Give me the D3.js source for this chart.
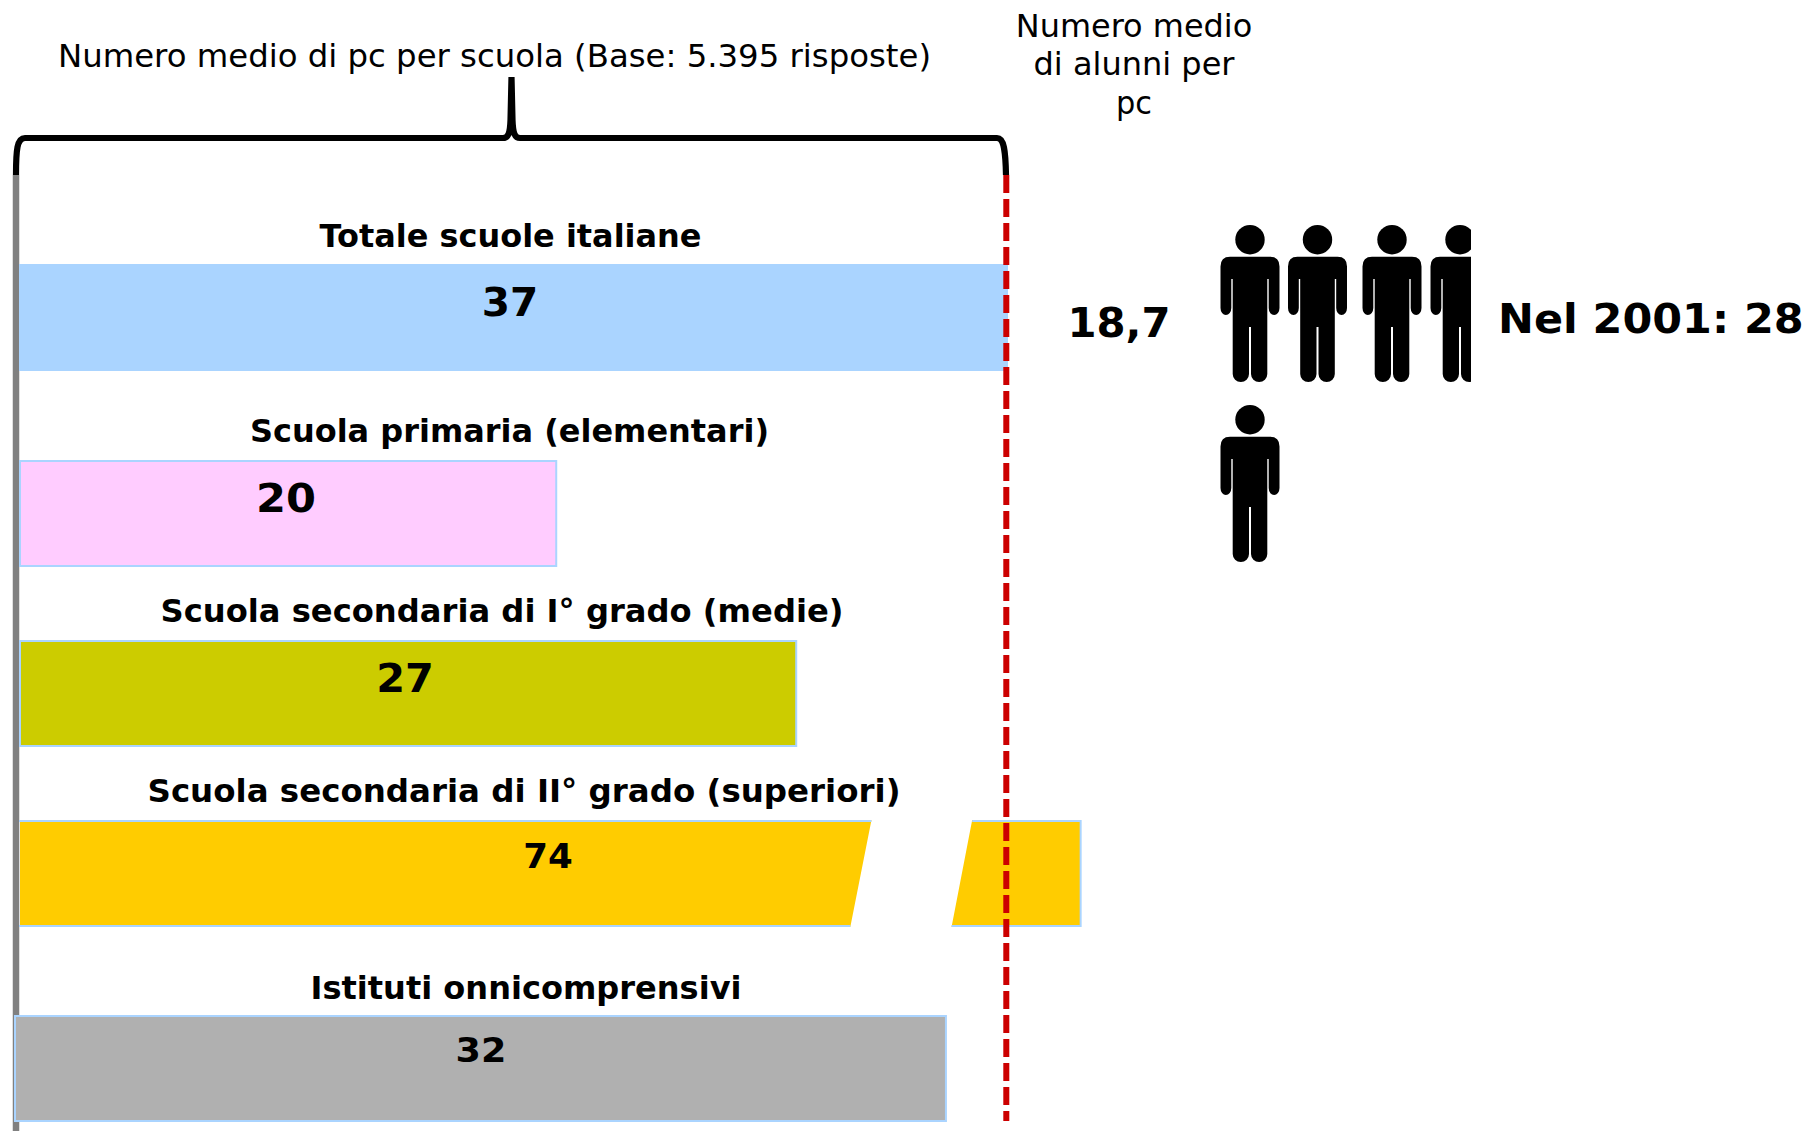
<!DOCTYPE html>
<html><head><meta charset="utf-8">
<script src="https://cdnjs.cloudflare.com/ajax/libs/d3/7.8.5/d3.min.js"></script>
<style>html,body{margin:0;padding:0;background:#fff}svg{display:block}text{font-family:"DejaVu Sans",Verdana,sans-serif;fill:#000}</style>
</head><body><script>
const categories = ["Totale scuole italiane","Scuola primaria (elementari)","Scuola secondaria di I° grado (medie)","Scuola secondaria di II° grado (superiori)","Istituti onnicomprensivi"];
const values = [37,20,27,74,32];
// the source bars are schematic: lengths, in units of the "37" bar
const drawnLengths = [37,20.17,29.13,39.75,34.72];
const barColors = ["#AAD4FF","#FFCCFF","#CCCC00","#FFCC00","#B0B0B0"];
const titleLeft = "Numero medio di pc per scuola (Base: 5.395 risposte)";
const titleRight = ["Numero medio","di alunni per","pc"];
const ratioLabel = "18,7";
const noteLabel = "Nel 2001: 28";
const people = [0,1,2,3,4];

const svg = d3.select("body").append("svg").attr("width",1809).attr("height",1131);
const defs = svg.append("defs");
const x = d3.scaleLinear().domain([0,37]).range([16,1007]);
const rowTop = d3.scaleOrdinal().domain(categories).range([265,461,641,821,1016]);
const barH = 105;
const labelBase = d3.scaleOrdinal().domain(categories).range([247,442,622,802,999]);
const labelX = d3.scaleOrdinal().domain(categories).range([510.5,509.5,502,524,526]);
const labelW = d3.scaleOrdinal().domain(categories).range([382,519,683,753,431]);
const valX = d3.scaleOrdinal().domain(values).range([510,286,405,548,481]);
const valY = d3.scaleOrdinal().domain(values).range([316,512,692,868,1062]);
const valSize = d3.scaleOrdinal().domain(values).range([39,39,39,34,34]);
const valW = d3.scaleOrdinal().domain(values).range([56.5,60,57.7,49.6,50.8]);

function centred(sel,w){return sel.attr("text-anchor","middle").attr("textLength",w).attr("lengthAdjust","spacingAndGlyphs");}

// axis line
svg.append("line").attr("x1",16).attr("x2",16).attr("y1",175).attr("y2",1131).attr("stroke","#808080").attr("stroke-width",6.5);

// bars
const rows = categories.map((c,i)=>({c,i,v:values[i],len:drawnLengths[i],col:barColors[i]}));
const barStroke = "#AAD4FF";
const bars = svg.append("g");
bars.selectAll("path.bar").data(rows).join("path").attr("class","bar")
  .attr("fill",d=>d.col)
  .attr("stroke",d=>d.v===74?"none":barStroke).attr("stroke-width",2)
  .attr("d",d=>{
    const t=rowTop(d.c), b=t+barH, p=d3.path();
    const x0 = d.i===4 ? 15 : 20;
    if(d.v===74){ // broken bar, slanted cut edges carry no outline
      p.moveTo(x0,t-1);p.lineTo(x(31.94),t-1);p.lineTo(x(31.15),b+1);p.lineTo(x0,b+1);p.closePath();
      p.moveTo(x(35.7),t-1);p.lineTo(x(d.len),t-1);p.lineTo(x(d.len),b+1);p.lineTo(x(34.93),b+1);p.closePath();
    } else {
      p.rect(x0,t,x(d.len)-x0,barH);
    }
    return p.toString();
  });
// outline of the broken bar, only on its straight edges
bars.selectAll("path.edge").data(rows.filter(d=>d.v===74)).join("path").attr("class","edge")
  .attr("fill","none").attr("stroke",barStroke).attr("stroke-width",2)
  .attr("d",d=>{
    const t=rowTop(d.c), b=t+barH, p=d3.path();
    p.moveTo(19,t);p.lineTo(x(31.94),t);
    p.moveTo(19,b);p.lineTo(x(31.15),b);
    p.moveTo(x(35.7),t);p.lineTo(x(d.len),t);p.lineTo(x(d.len),b);p.lineTo(x(34.93),b);
    return p.toString();
  });

// red dashed reference
svg.append("line").attr("x1",1006.3).attr("x2",1006.3).attr("y1",175).attr("y2",1121)
  .attr("stroke","#CC0000").attr("stroke-width",6).attr("stroke-dasharray","18 6");

// brace
svg.append("path").attr("fill","none").attr("stroke","#000").attr("stroke-width",6.2)
 .attr("d","M16,175 C16,150 17,138 25,138 H503 C508,138 510,134 510.5,120 L511.5,77 L512.5,120 C513,134 515,138 520,138 H997 C1004,138 1005.5,150 1006,175");

// texts
centred(svg.append("text").attr("x",494.5).attr("y",67).attr("font-size",32),873).text(titleLeft);
const rightW=[236.5,201,36];
svg.append("g").selectAll("text").data(titleRight).join("text").attr("x",1134)
  .attr("y",(d,i)=>[37,75,114][i]).attr("text-anchor","middle").attr("font-size",32)
  .attr("textLength",(d,i)=>rightW[i]).attr("lengthAdjust","spacingAndGlyphs").text(d=>d);
svg.append("g").selectAll("text").data(categories).join("text")
  .attr("x",d=>labelX(d)).attr("y",d=>labelBase(d)).attr("text-anchor","middle")
  .attr("textLength",d=>labelW(d)).attr("lengthAdjust","spacingAndGlyphs")
  .attr("font-size",31.5).attr("font-weight","bold").text(d=>d);
svg.append("g").selectAll("text").data(values).join("text")
  .attr("x",d=>valX(d)).attr("y",d=>valY(d)).attr("text-anchor","middle")
  .attr("textLength",d=>valW(d)).attr("lengthAdjust","spacingAndGlyphs")
  .attr("font-size",d=>valSize(d)).attr("font-weight","bold").text(d=>d);
centred(svg.append("text").attr("x",1119).attr("y",337).attr("font-size",41).attr("font-weight","bold"),103).text(ratioLabel);
svg.append("text").attr("x",1498).attr("y",333).attr("font-size",40).attr("font-weight","bold")
  .attr("textLength",305.7).attr("lengthAdjust","spacingAndGlyphs").text(noteLabel);

// pictogram
defs.append("clipPath").attr("id","pic").append("rect").attr("x",1200).attr("y",200).attr("width",271).attr("height",400);
const manBody="M-20,31.7 H20 Q29.5,31.7 29.5,41.5 V83 A5.4 7 0 0 1 18.7,83 V54 H17.3 V149 A8.15 8 0 0 1 1,149 V102 H-1 V149 A8.15 8 0 0 1 -17.3,149 V54 H-18.7 V83 A5.4 7 0 0 1 -29.5,83 V41.5 Q-29.5,31.7 -20,31.7 Z";
const px = d3.scaleOrdinal().domain(people).range([1250,1317.5,1392,1460,1250]);
const py = d3.scaleOrdinal().domain(people).range([225,225,225,225,405]);
const man = svg.append("g").attr("clip-path","url(#pic)").selectAll("g").data(people).join("g")
  .attr("transform",d=>`translate(${px(d)},${py(d)})`);
man.append("circle").attr("cx",0).attr("cy",14.7).attr("r",14.7).attr("fill","#000");
man.append("path").attr("d",manBody).attr("fill","#000");
</script></body></html>
